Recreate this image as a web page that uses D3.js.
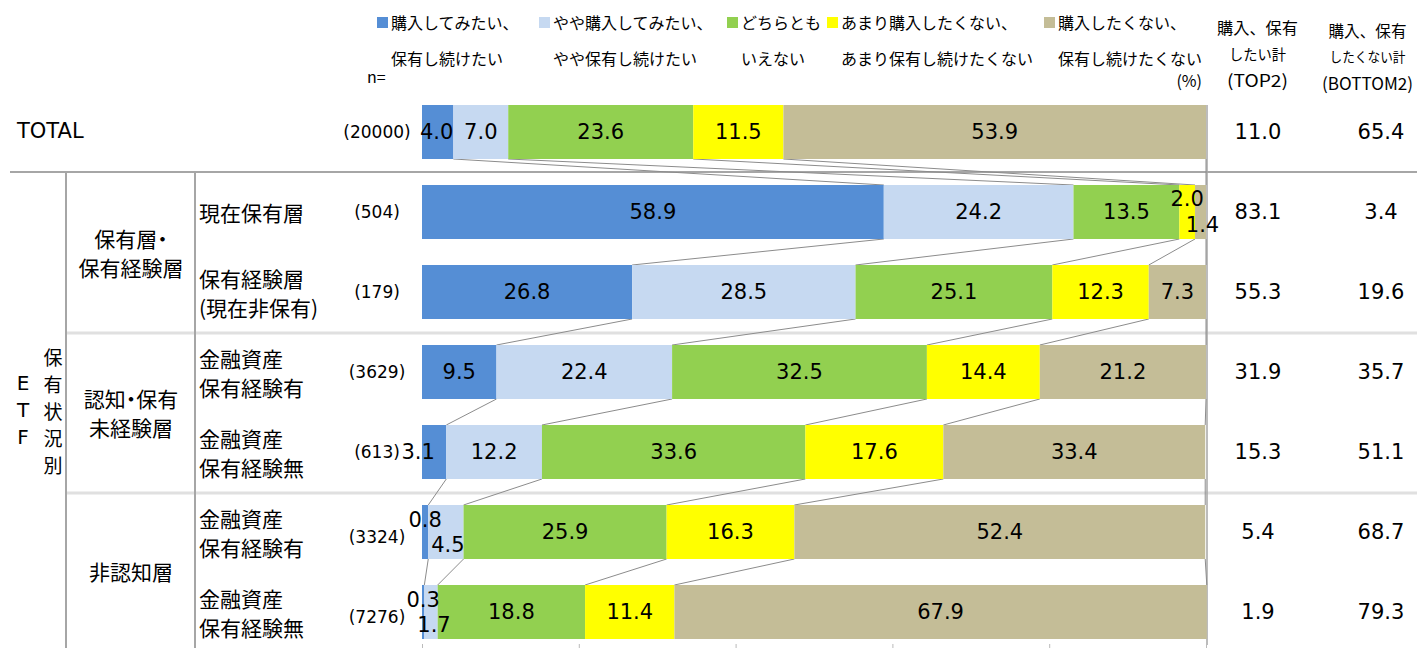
<!DOCTYPE html>
<html><head><meta charset="utf-8">
<script src="https://cdn.jsdelivr.net/npm/d3@7"></script>
<style>
html,body{margin:0;padding:0;background:#fff;}
svg{display:block;}
.jp{font-feature-settings:"palt" 1;}
</style>
</head><body>
<svg id="chart" width="1417" height="648"></svg>
<script>
const seriesNames = [
  ["購入してみたい、","保有し続けたい"],
  ["やや購入してみたい、","やや保有し続けたい"],
  ["どちらとも","いえない"],
  ["あまり購入したくない、","あまり保有し続けたくない"],
  ["購入したくない、","保有し続けたくない"]
];
const seriesColors = ["#558ED5","#C6D9F1","#92D050","#FFFF00","#C4BD97"];
const rowIds = ["total","cur","exp","aw_yes","aw_no","un_yes","un_no"];
const rowLabels = [["TOTAL"],["現在保有層"],["保有経験層","(現在非保有)"],["金融資産","保有経験有"],["金融資産","保有経験無"],["金融資産","保有経験有"],["金融資産","保有経験無"]];
const nValues = ["20000","504","179","3629","613","3324","7276"];
const s1 = [4.0, 58.9, 26.8, 9.5, 3.1, 0.8, 0.3];
const s2 = [7.0, 24.2, 28.5, 22.4, 12.2, 4.5, 1.7];
const s3 = [23.6, 13.5, 25.1, 32.5, 33.6, 25.9, 18.8];
const s4 = [11.5, 2.0, 12.3, 14.4, 17.6, 16.3, 11.4];
const s5 = [53.9, 1.4, 7.3, 21.2, 33.4, 52.4, 67.9];
const top2 = ["11.0","83.1","55.3","31.9","15.3","5.4","1.9"];
const bottom2 = ["65.4","3.4","19.6","35.7","51.1","68.7","79.3"];
const groupLabels = [["保有層・","保有経験層"],["認知・保有","未経験層"],["非認知層"]];
const headerTop2 = ["購入、保有","したい計","(TOP2)"];
const headerBottom2 = ["購入、保有","したくない計","(BOTTOM2)"];
const axisTicks = [0,20,40,60,80,100];

const series = [s1,s2,s3,s4,s5];
const svg = d3.select("#chart");
const JP = "'Noto Sans CJK JP','Noto Sans',sans-serif";
const NUM = "'DejaVu Sans',Verdana,sans-serif";

const x = d3.scaleLinear().domain([0,100]).range([422,1206]);
const y = d3.scaleBand().domain(rowIds).range([92,652]).paddingInner(0.325).paddingOuter(0.1625);
const bh = y.bandwidth();
const cy = id => y(id) + bh/2;

const stackData = rowIds.map((id,i)=>{
  let c = 0;
  return series.map((s,k)=>{ const x0=c; c+=s[i]; return {id,i,k,v:s[i],x0,x1:c}; });
});

// separators
const g0 = svg.append("g");
g0.append("line").attr("x1",10).attr("x2",1417).attr("y1",172).attr("y2",172).attr("stroke","#a6a6a6").attr("stroke-width",2);
[333,493].forEach(yy=>{
  g0.append("line").attr("x1",67).attr("x2",1417).attr("y1",yy).attr("y2",yy).attr("stroke","#e0e0e0").attr("stroke-width",3);
});
[66,195].forEach(xx=>{
  g0.append("line").attr("x1",xx).attr("x2",xx).attr("y1",172).attr("y2",648).attr("stroke","#a6a6a6").attr("stroke-width",2);
});
g0.append("line").attr("x1",1207).attr("x2",1207).attr("y1",y("total")).attr("y2",645).attr("stroke","#a6a6a6").attr("stroke-width",1.5);

// axis ticks at bottom
const ax = svg.append("g").attr("transform","translate(0,644)")
  .call(d3.axisBottom(x).tickValues(axisTicks).tickSize(4).tickFormat(""));
ax.select(".domain").remove();
ax.selectAll("line").attr("stroke","#bbb");

// series lines
const gl = svg.append("g");
for(let i=0;i<rowIds.length-1;i++){
  for(let k=0;k<5;k++){
    const a = stackData[i][k], b = stackData[i+1][k];
    gl.append("line")
      .attr("x1",x(a.x1)).attr("y1",y(rowIds[i])+bh)
      .attr("x2",x(b.x1)).attr("y2",y(rowIds[i+1]))
      .attr("stroke","#8c8c8c").attr("stroke-width",1);
  }
}

// bars
const gb = svg.append("g");
stackData.forEach(row=>{
  gb.selectAll(null).data(row).enter().append("rect")
    .attr("x",d=>x(d.x0)).attr("width",d=>Math.max(0,x(d.x1)-x(d.x0)))
    .attr("y",d=>y(d.id)).attr("height",bh)
    .attr("fill",d=>seriesColors[d.k]);
});

// value labels (with adjustments for small segments)
const adj = {"cur-3":[0,-13],"cur-4":[2,13],"un_yes-0":[0,-12],"un_yes-1":[2,13],"un_no-0":[0,-12],"un_no-1":[3,13],"aw_no-0":[-16,0],"total-0":[-1,0]};
const gt = svg.append("g");
stackData.forEach(row=>{
  row.forEach(d=>{
    const a = adj[d.id+"-"+d.k] || [0,0];
    gt.append("text")
      .attr("x",x((d.x0+d.x1)/2)+a[0]).attr("y",cy(d.id)+a[1])
      .attr("text-anchor","middle").attr("dominant-baseline","central")
      .attr("font-family",NUM).attr("font-size",21).attr("fill","#000")
      .text(d.v.toFixed(1));
  });
});

// right columns
rowIds.forEach((id,i)=>{
  gt.append("text").attr("x",1258).attr("y",cy(id)).attr("text-anchor","middle").attr("dominant-baseline","central")
    .attr("font-family",NUM).attr("font-size",21).text(top2[i]);
  gt.append("text").attr("x",1381).attr("y",cy(id)).attr("text-anchor","middle").attr("dominant-baseline","central")
    .attr("font-family",NUM).attr("font-size",21).text(bottom2[i]);
});

// n labels
rowIds.forEach((id,i)=>{
  const dy = (id==="un_yes"||id==="un_no") ? 5 : 0;
  gt.append("text").attr("x",377).attr("y",cy(id)+dy).attr("text-anchor","middle").attr("dominant-baseline","central")
    .attr("font-family",NUM).attr("font-size",17).text("("+nValues[i]+")");
});

// row labels
rowIds.forEach((id,i)=>{
  const lines = rowLabels[i];
  if(id==="total"){
    gt.append("text").attr("x",17).attr("y",cy(id)-1).attr("dominant-baseline","central")
      .attr("font-family",NUM).attr("font-size",21).text(lines[0]);
    return;
  }
  if(lines.length===1){
    gt.append("text").attr("class","jp").attr("x",199).attr("y",cy(id)).attr("dominant-baseline","central")
      .attr("font-family",JP).attr("font-size",21).text(lines[0]);
  } else {
    lines.forEach((t,j)=>{
      gt.append("text").attr("class","jp").attr("x",199).attr("y",cy(id)-14+j*29).attr("dominant-baseline","central")
        .attr("font-family",JP).attr("font-size",21).text(t);
    });
  }
});

// group labels
const groupCenters = [(cy("cur")+cy("exp"))/2, (cy("aw_yes")+cy("aw_no"))/2, (cy("un_yes")+cy("un_no"))/2];
groupLabels.forEach((lines,gi)=>{
  lines.forEach((t,j)=>{
    gt.append("text").attr("class","jp").attr("x",131).attr("y",groupCenters[gi]-(lines.length-1)*14.5+j*29+(lines.length===1?-1:0))
      .attr("text-anchor","middle").attr("dominant-baseline","central")
      .attr("font-family",JP).attr("font-size",21).text(t);
  });
});

// vertical ETF label
["E","T","F"].forEach((c,j)=>{
  gt.append("text").attr("x",23).attr("y",383+j*27).attr("text-anchor","middle").attr("dominant-baseline","central")
    .attr("font-family",NUM).attr("font-size",20).text(c);
});
["保","有","状","況","別"].forEach((c,j)=>{
  gt.append("text").attr("x",53).attr("y",356+j*27).attr("text-anchor","middle").attr("dominant-baseline","central")
    .attr("font-family",JP).attr("font-size",19).text(c);
});

// legend
const legX = [377,539,727,827,1044];
const gLeg = svg.append("g");
seriesNames.forEach((nm,k)=>{
  gLeg.append("rect").attr("x",legX[k]).attr("y",17).attr("width",11).attr("height",11).attr("fill",seriesColors[k]);
  gLeg.append("text").attr("x",legX[k]+14).attr("y",22).attr("dominant-baseline","central")
    .attr("font-family",JP).attr("font-size",16).text(nm[0]);
  gLeg.append("text").attr("x",legX[k]+14).attr("y",58).attr("dominant-baseline","central")
    .attr("font-family",JP).attr("font-size",16).text(nm[1]);
});
gLeg.append("text").attr("x",367).attr("y",76).attr("dominant-baseline","central").attr("font-family",JP).attr("font-size",16).text("n=");
gLeg.append("text").attr("x",1202).attr("y",80).attr("text-anchor","end").attr("dominant-baseline","central").attr("font-family",JP).attr("font-size",16).text("(%)");

// right headers
const hdrW = [[81,57,61],[78,76,91]];
const hdrF = [[16,15,17],[16,14,17]];
[headerTop2, headerBottom2].forEach((lines,c)=>{
  lines.forEach((t,j)=>{
    gLeg.append("text").attr("x",c===0?1257.5:1367.5).attr("y",(c===0?27:30)+j*26)
      .attr("text-anchor","middle").attr("dominant-baseline","central")
      .attr("font-family",JP).attr("font-size",hdrF[c][j])
      .attr("textLength",hdrW[c][j]).attr("lengthAdjust","spacingAndGlyphs")
      .text(t);
  });
});
</script>
</body></html>
